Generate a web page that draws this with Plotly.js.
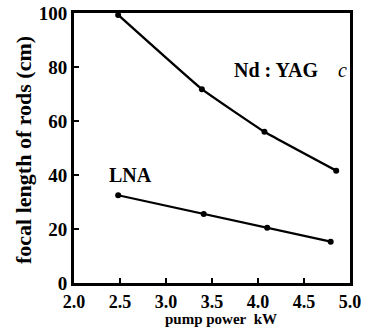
<!DOCTYPE html>
<html><head><meta charset="utf-8">
<script src="https://cdn.plot.ly/plotly-3.0.1.min.js"></script>
<style>html,body{margin:0;padding:0;background:#fff}#g{width:374px;height:328px}</style>
</head><body><div id="g"></div>
<script>
const ndYagX = [2.48, 3.39, 4.07, 4.85];
const ndYagY = [99.3, 71.8, 56.0, 41.6];
const lnaX = [2.48, 3.41, 4.10, 4.79];
const lnaY = [32.5, 25.6, 20.5, 15.3];
const xTickVals = [2.0, 2.5, 3.0, 3.5, 4.0, 4.5, 5.0];
const xTickText = ["2.0", "2.5", "3.0", "3.5", "4.0", "4.5", "5.0"];
const yTickVals = [0, 20, 40, 60, 80, 100];
const yTickText = ["0", "20", "40", "60", "80", "100"];

const F = "Liberation Serif";
const traces = [
  {x: ndYagX, y: ndYagY, mode: "lines+markers", line: {color: "#000", width: 2.4, shape: "spline", smoothing: 0.3},
   marker: {color: "#000", size: 6}, cliponaxis: false},
  {x: lnaX, y: lnaY, mode: "lines+markers", line: {color: "#000", width: 2.2},
   marker: {color: "#000", size: 6}, cliponaxis: false}
];
const pw = 374 - 74 - 24, ph = 328 - 13 - 45;
const px = v => (v - 74) / pw, py = v => (283 - v) / ph;
const layout = {
  width: 374, height: 328,
  margin: {l: 74, r: 24, t: 13, b: 45},
  showlegend: false,
  paper_bgcolor: "#fff", plot_bgcolor: "#fff",
  font: {family: F, color: "#000"},
  xaxis: {range: [2, 5], tickvals: xTickVals, ticktext: xTickText, ticks: "inside", ticklen: 5, tickwidth: 2,
    tickcolor: "#000", showline: true, linecolor: "#000", linewidth: 3, mirror: true, showgrid: false, zeroline: false,
    tickfont: {family: F, size: 18, color: "#000", weight: "bold"}},
  yaxis: {range: [0, 100], tickvals: yTickVals, ticktext: yTickText, ticks: "inside", ticklen: 5, tickwidth: 2,
    tickcolor: "#000", showline: true, linecolor: "#000", linewidth: 3, mirror: true, showgrid: false, zeroline: false,
    tickfont: {family: F, size: 19, color: "#000", weight: "bold"}},
  annotations: [
    {x: 4.2, y: 79, xref: "x", yref: "y", text: "<b>Nd : YAG</b>", showarrow: false, font: {family: F, size: 20, color: "#000"}},
    {x: 4.92, y: 79, xref: "x", yref: "y", text: "<i>c</i>", showarrow: false, font: {family: F, size: 20, color: "#000"}},
    {x: 2.61, y: 40, xref: "x", yref: "y", text: "<b>LNA</b>", showarrow: false, font: {family: F, size: 20, color: "#000"}},
    {x: px(221), y: py(319), xref: "paper", yref: "paper", xanchor: "center", yanchor: "middle",
     text: "<b>pump power&nbsp;&nbsp;kW</b>", showarrow: false, font: {family: F, size: 15, color: "#000"}},
    {x: px(23), y: py(150), xref: "paper", yref: "paper", xanchor: "center", yanchor: "middle",
     text: "<b>focal length of rods (cm)</b>", showarrow: false, textangle: -90, font: {family: F, size: 22, color: "#000"}}
  ]
};
Plotly.newPlot("g", traces, layout, {displayModeBar: false, staticPlot: true});
</script></body></html>
